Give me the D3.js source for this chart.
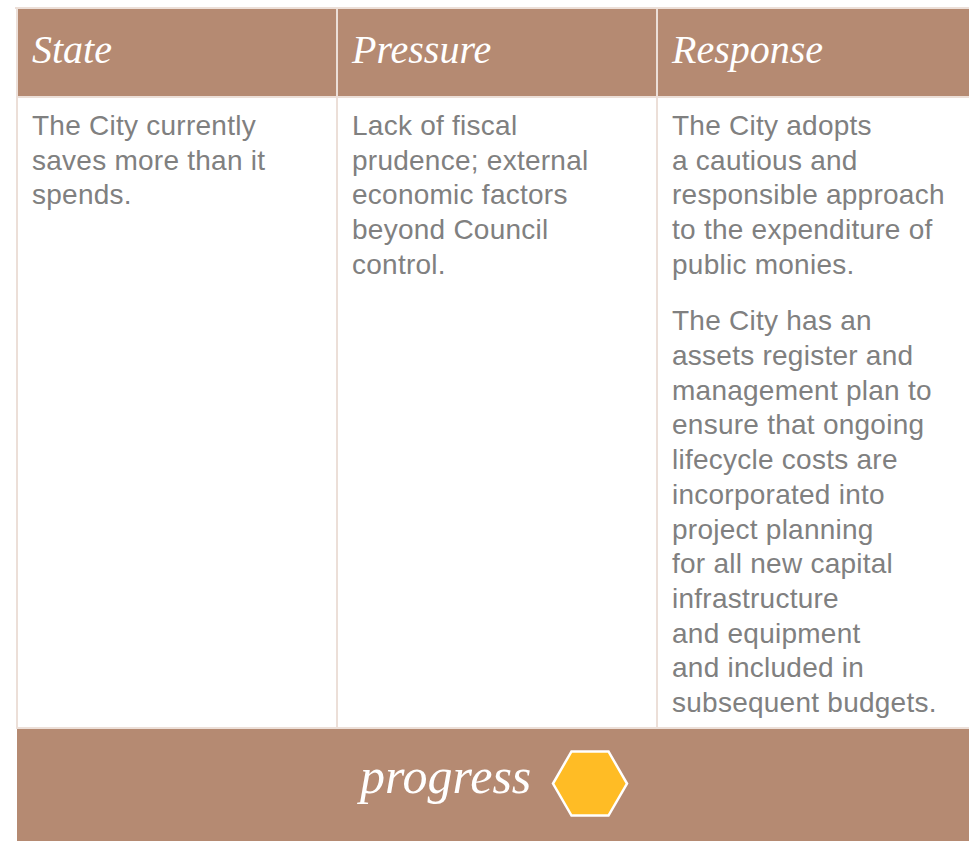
<!DOCTYPE html>
<html>
<head>
<meta charset="utf-8">
<script src="https://cdn.jsdelivr.net/npm/d3@7"></script>
<style>
    html, body { margin: 0; padding: 0; background: #fff; overflow: hidden; }
    svg { display: block; }
</style>
</head>
<body>
<svg id="chart"></svg>
<script>
const headers = ["State", "Pressure", "Response"];
const stateLines = ["The City currently", "saves more than it", "spends."];
const pressureLines = ["Lack of fiscal", "prudence; external", "economic factors", "beyond Council", "control."];
const responseLines = ["The City adopts", "a cautious and", "responsible approach", "to the expenditure of", "public monies."];
const responseLines2 = ["The City has an", "assets register and", "management plan to", "ensure that ongoing", "lifecycle costs are", "incorporated into", "project planning", "for all new capital", "infrastructure", "and equipment", "and included in", "subsequent budgets."];
const footerLabel = "progress";

const width = 969, height = 841;
const brown = "#b58a72", rule = "#ecdfd8", gold = "#ffbc25", grey = "#808080";
const scriptFont = "'Liberation Serif', serif";

const svg = d3.select("#chart").attr("width", width).attr("height", height);

// three equal columns, the last one runs off the right edge
const x = d3.scaleBand().domain(headers).range([17, 977]);
// text rows in the body
const row = d3.scaleLinear().domain([0, 1]).range([135, 169.7]);

// header and footer bands
svg.append("rect").attr("x", 15).attr("y", 7).attr("width", width - 15).attr("height", 2).attr("fill", rule);
svg.append("rect").attr("x", 17).attr("y", 9).attr("width", width - 17).attr("height", 87).attr("fill", brown);
svg.append("rect").attr("x", 17).attr("y", 96).attr("width", width - 17).attr("height", 2).attr("fill", rule);
svg.append("rect").attr("x", 17).attr("y", 727).attr("width", width - 17).attr("height", 2).attr("fill", rule);
svg.append("rect").attr("x", 17).attr("y", 729).attr("width", width - 17).attr("height", 112).attr("fill", brown);

// column rules
svg.append("rect").attr("x", 16).attr("y", 9).attr("width", 2).attr("height", 832 - 112).attr("fill", rule);
svg.selectAll(".colRule")
    .data(headers.slice(1))
    .enter()
    .append("rect")
    .attr("class", "colRule")
    .attr("x", d => x(d) - 1)
    .attr("y", 9)
    .attr("width", 2)
    .attr("height", 718)
    .attr("fill", rule);

// header labels
svg.selectAll(".head")
    .data(headers)
    .enter()
    .append("text")
    .attr("class", "head")
    .attr("x", d => x(d) + 15)
    .attr("y", 63)
    .attr("fill", "#fff")
    .style("font-family", scriptFont)
    .style("font-style", "italic")
    .style("font-size", "40px")
    .text(d => d);

// body text, one block per paragraph
const blocks = [
    { col: "State", first: 0, lines: stateLines },
    { col: "Pressure", first: 0, lines: pressureLines },
    { col: "Response", first: 0, lines: responseLines },
    { col: "Response", first: 5.63, lines: responseLines2 }
];

blocks.forEach(b => {
    svg.selectAll(null)
        .data(b.lines)
        .enter()
        .append("text")
        .attr("x", x(b.col) + 15)
        .attr("y", (d, i) => row(b.first + i))
        .attr("fill", grey)
        .style("font-family", "'Liberation Sans', sans-serif")
        .style("font-size", "28px")
        .style("letter-spacing", "0.25px")
        .text(d => d);
});

// footer
svg.append("text")
    .attr("x", 360)
    .attr("y", 793)
    .attr("fill", "#fff")
    .style("font-family", scriptFont)
    .style("font-style", "italic")
    .style("font-size", "50px")
    .text(footerLabel);

const hexR = 37;
const hexCorners = d3.range(6).map(i => [590 + hexR * Math.cos(i * Math.PI / 3), 783.5 + hexR * Math.sin(i * Math.PI / 3)]);
svg.append("path")
    .attr("d", d3.line().curve(d3.curveLinearClosed)(hexCorners))
    .attr("fill", gold)
    .attr("stroke", "#fff")
    .attr("stroke-width", 2.5);
</script>
</body>
</html>
